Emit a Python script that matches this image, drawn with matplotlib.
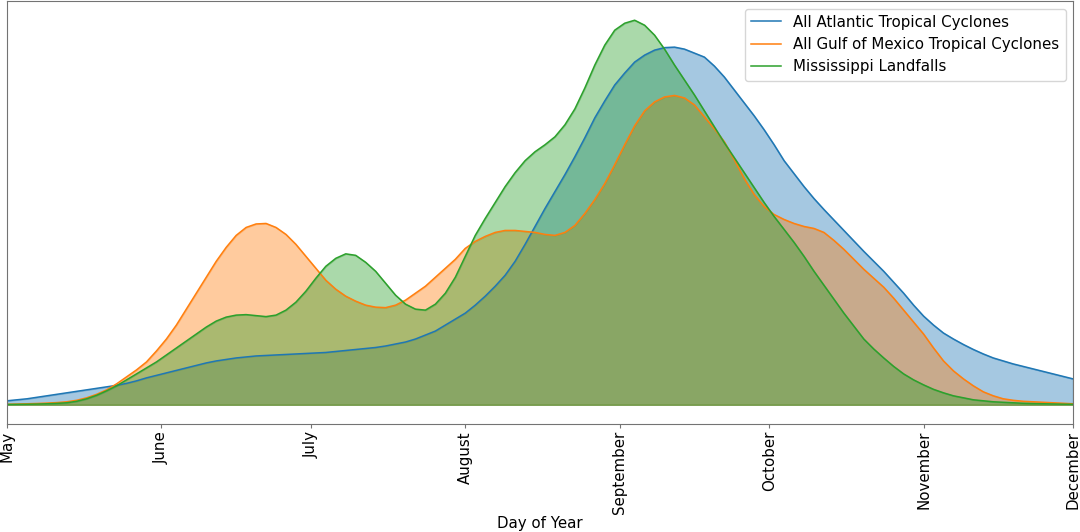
import matplotlib
matplotlib.use("Agg")
import matplotlib.pyplot as plt
import numpy as np

# day of year samples, every 2 days (May 1 = 121 ... Dec 1 = 335)
days = list(range(121, 336, 2))

# relative density (arbitrary units)
atlantic = [4, 5, 6, 7.5, 9, 10.5, 12, 13.5, 15, 16.5,
            18, 19.5, 21.5, 24, 27, 29.5, 32, 34.5, 37, 39.5,
            42, 44, 45.5, 47, 48, 49, 49.5, 50, 50.5, 51,
            51.5, 52, 52.5, 53.5, 54.5, 55.5, 56.5, 57.5, 59, 61,
            63, 66, 70, 74, 80, 86, 92, 100, 109, 119,
            130, 144, 161, 179, 197, 214, 231, 249, 268, 288,
            305, 321, 333, 344, 351, 356, 358.5, 359, 357, 353,
            349, 340, 329, 316, 303, 290, 276, 261, 245, 232,
            219, 207, 196, 185.5, 175, 164.5, 154, 144, 134, 123,
            112, 100, 89, 80, 72, 66, 60.5, 55.5, 51, 47,
            44, 41, 38.5, 36, 33.5, 31, 28.5, 26]
gulf = [0.5, 0.7, 1, 1.3, 1.7, 2.2, 3, 4.5, 7, 10.5,
        15, 21, 28, 35, 43, 54, 66, 80, 96, 112,
        128, 144, 158, 170, 178, 181.5, 182, 178, 171, 161,
        149, 137, 125, 116, 109, 104, 100, 98, 97.5, 100,
        105, 112, 119, 128, 137, 146, 157, 164, 169, 173,
        175, 175, 174, 173, 171, 170, 173, 180, 192, 206,
        222, 241, 261, 280, 295, 304, 309, 310.5, 308, 301,
        289, 277, 264, 246, 227, 211, 199, 191, 186, 182,
        179, 177, 173, 165, 156, 146, 136, 127, 118, 107,
        95, 83, 71, 57, 44, 34, 26, 19, 13, 9,
        6, 4.5, 3.5, 3, 2.5, 2, 1.5, 1]
mississippi = [0.3, 0.4, 0.5, 0.7, 1, 1.4, 2, 3.5, 6, 9.5,
               14, 19, 25, 31, 37, 43, 50, 57, 64, 71,
               78, 84, 88, 90, 90.5, 89.5, 88.5, 90, 95, 103,
               114, 127, 139, 147, 151.5, 150, 143, 134, 122, 110,
               101, 96, 95, 101, 112, 128, 149, 170, 187, 203,
               219, 233, 245, 254, 261, 269, 281, 297, 318, 341,
               361, 376, 383, 386, 381, 371, 357, 341, 326, 311,
               295, 279, 263, 248, 233, 218, 203, 189, 176, 163,
               149, 134, 120, 106, 92, 79, 66, 56, 47, 38.5,
               31, 25, 20, 15.5, 12, 9, 7, 5, 4, 3,
               2.5, 2, 1.5, 1.2, 1, 0.8, 0.6, 0.5]

month_days = [121, 152, 182, 213, 244, 274, 305, 335]
month_names = ['May', 'June', 'July', 'August', 'September', 'October',
               'November', 'December']

series = [(atlantic, 'All Atlantic Tropical Cyclones', 'tab:blue'),
          (gulf, 'All Gulf of Mexico Tropical Cyclones', 'tab:orange'),
          (mississippi, 'Mississippi Landfalls', 'tab:green')]

fs = 10.8
fig = plt.figure(figsize=(10.8, 5.32), dpi=100)
ax = fig.add_axes([7/1080, 1-424/532, 1066/1080, 423/532])

for vals, name, col in series:
    ax.plot(days, vals, color=col, lw=1.1, label=name)
    ax.fill_between(days, vals, color=col, alpha=0.4)

ax.set_xlim(121, 335)
ax.set_yticks([])
ax.set_xticks(month_days)
ax.set_xticklabels(month_names, rotation=90, fontsize=fs)
ax.set_xlabel('Day of Year', fontsize=fs, labelpad=1)
for s in ax.spines.values():
    s.set_color('0.45')
ax.tick_params(axis='x', colors='0.45', labelcolor='black', length=3, pad=2)
ax.legend(loc='upper right', fontsize=fs)

fig.savefig('out.png', dpi=100)
